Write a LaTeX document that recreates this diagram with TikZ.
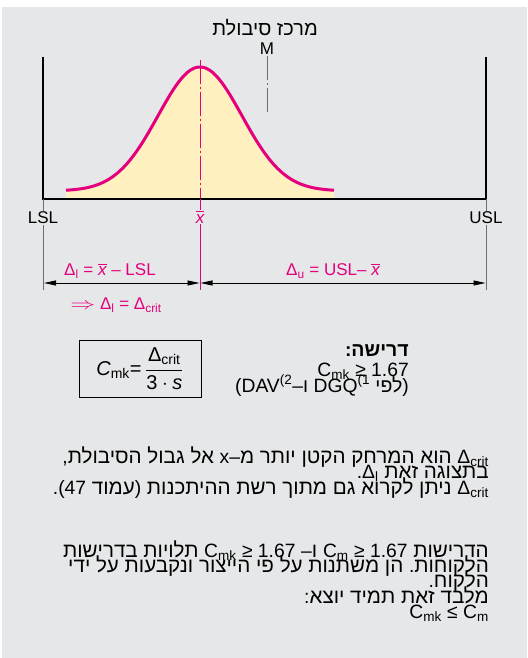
\documentclass[tikz,border=0pt]{standalone}
\usepackage{amsmath}
\usepackage{graphicx}
\usepackage{fontspec}
\setmainfont{Liberation Sans}
\newfontfamily\hebfont[Script=Hebrew]{Liberation Sans}
\TeXXeTstate=1
\frenchspacing
\usetikzlibrary{arrows.meta, positioning}
\definecolor{bggray}{HTML}{E6E7E8}
\definecolor{bmagenta}{HTML}{E4007C}
\definecolor{curvefill}{HTML}{FFF0C0}
\definecolor{axisgray}{HTML}{6E6E6E}
\newcommand{\xbar}{$\overline{\mbox{\itshape x}}$}
\newcommand{\dcrit}{Δ\textsubscript{crit}}
\newcommand{\ltr}[1]{\beginL{\rmfamily\fontsize{19.3}{20}\selectfont #1}\endL}

\begin{document}
\begin{tikzpicture}[x=1pt, y=-1pt,
    lbl/.style={font=\fontsize{17}{18}\selectfont, inner sep=1pt},
    pinklbl/.style={lbl, text=bmagenta},
    hebline/.style={font=\fontsize{20.6}{20}\selectfont\hebfont, anchor=base east, inner sep=0pt},
    limit/.style={line width=2pt},
    tick/.style={axisgray, line width=1pt},
    dim/.style={line width=0.8pt, {Triangle[length=12pt,width=5pt]}-{Triangle[length=12pt,width=5pt]}}]
    \useasboundingbox (0,0) rectangle (527,658);
    \fill[bggray] (2,7) rectangle (527,658);
    \coordinate (lsl) at (43,199);
    \coordinate (usl) at (486,199);
    \coordinate (xb) at (200,199);
    \fill[curvefill] (66,199) -- plot[domain=66:334, samples=120] (\x, {191-124*exp(-0.5*((\x-200)/42)^2)}) -- (334,199) -- cycle;
    \draw[bmagenta, line width=3pt] plot[domain=66:334, samples=120] (\x, {191-124*exp(-0.5*((\x-200)/42)^2)});
    \draw[bmagenta, line width=0.8pt, dash pattern=on 24pt off 3pt on 2pt off 3pt] (200,60) -- (xb);
    \draw[limit] (43,57) -- (lsl) -- (usl) -- (486,57);

    \node[lbl, font=\fontsize{20}{20}\selectfont\hebfont] (title) at (265,28) {\beginR מרכז סיבולת\endR};
    \node[lbl] (m) at (267,49) {M};
    \coordinate (mend) at (267,113);
    \draw[tick, dash pattern=on 24pt off 3pt on 2pt off 3pt] (m) -- (mend);

    \node[lbl] (lsllbl) at (43,218) {LSL};
    \node[lbl] (usllbl) at (486,218) {USL};
    \node[pinklbl] (xbarlbl) at (200,217) {\xbar};
    \coordinate (lslend) at (43,290);
    \coordinate (uslend) at (486,290);
    \coordinate (xbend) at (200,290);
    \draw[tick] (lsl) -- (lsllbl) (lsllbl) -- (lslend);
    \draw[tick] (usl) -- (usllbl) (usllbl) -- (uslend);
    \draw[bmagenta, line width=0.8pt] (xb) -- (xbarlbl) (xbarlbl) -- (xbend);

    \coordinate (dl) at (44,283);
    \coordinate (dm) at (199.5,283);
    \coordinate (dn) at (200.5,283);
    \coordinate (du) at (485.5,283);
    \draw[dim] (dl) -- (dm);
    \draw[dim] (dn) -- (du);
    \node[pinklbl] (deltal) at (110,271) {Δ\textsubscript{l} = \xbar{} – LSL};
    \node[pinklbl] (deltau) at (333,271) {Δ\textsubscript{u} = USL– \xbar};
    \node[pinklbl] (crit) at (116,305) {\scalebox{1.45}[1]{$\Rightarrow$} Δ\textsubscript{l} = \dcrit};

    \node[draw, line width=0.8pt, minimum width=122pt, minimum height=57pt, font=\fontsize{20}{20}\selectfont] (formula) at (140,368.5)
        {$\textit{C}_{\text{mk}}\text{=}\,\dfrac{\text{Δ}_{\text{crit}}}{\text{3}\cdot\textit{s}}$};

    \node[hebline, font=\fontsize{19.5}{20}\selectfont\hebfont] (req1) at (409,356) {\beginR\textbf{דרישה\ltr{\bfseries :}}\endR};
    \node[hebline, font=\fontsize{19.5}{20}\selectfont\hebfont] (req2) at (409,376) {\ltr{C\textsubscript{mk} ≥ 1.67}};
    \node[hebline, font=\fontsize{19.5}{20}\selectfont\hebfont] (req3) at (409,392)
        {\beginR\ltr{)}לפי \ltr{DGQ\textsuperscript{(1}} ו\ltr{(DAV\textsuperscript{(2}–}\endR};

    \node[hebline] (note1) at (489,463) {\beginR\ltr{\dcrit} הוא המרחק הקטן יותר מ\ltr{x–} אל גבול הסיבולת\ltr{,}\endR};
    \node[hebline] (note2) at (489,478) {\beginR בתצוגה זאת \ltr{Δ\textsubscript{l}}\ltr{.}\endR};
    \node[hebline] (note3) at (489,494) {\beginR\ltr{\dcrit} ניתן לקרוא גם מתוך רשת ההיתכנות \ltr{)}עמוד \ltr{47}\ltr{(}\ltr{.}\endR};

    \node[hebline] (demand1) at (489,557) {\beginR הדרישות \ltr{C\textsubscript{m} ≥ 1.67} ו\ltr{–} \ltr{C\textsubscript{mk} ≥ 1.67} תלויות בדרישות\endR};
    \node[hebline] (demand2) at (489,572) {\beginR הלקוחות\ltr{.} הן משתנות על פי הייצור ונקבעות על ידי\endR};
    \node[hebline] (demand3) at (489,587) {\beginR הלקוח\ltr{.}\endR};
    \node[hebline] (demand4) at (489,603) {\beginR מלבד זאת תמיד יוצא\ltr{:}\endR};
    \node[hebline] (demand5) at (489,618) {\ltr{C\textsubscript{mk} ≤ C\textsubscript{m}}};
\end{tikzpicture}
\end{document}
